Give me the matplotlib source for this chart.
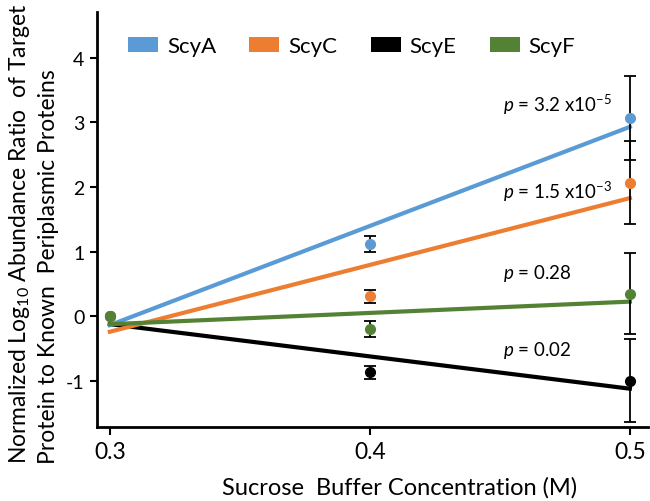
import numpy as np
import matplotlib
matplotlib.use("Agg")
import matplotlib.pyplot as plt
from matplotlib.patches import Patch

plt.rcParams['font.family'] = ['Lato', 'DejaVu Sans']
plt.rcParams['mathtext.fontset'] = 'custom'
plt.rcParams['mathtext.rm'] = 'Lato'
plt.rcParams['mathtext.it'] = 'Lato:italic'

# data
conc = [0.3, 0.4, 0.5]
proteins = ['ScyA', 'ScyC', 'ScyE', 'ScyF']
means = {
    'ScyA': [0.0, 1.12, 3.07],
    'ScyC': [0.0, 0.31, 2.07],
    'ScyE': [0.0, -0.87, -1.00],
    'ScyF': [0.0, -0.20, 0.35],
}
errors = {
    'ScyA': [0.0, 0.12, 0.65],
    'ScyC': [0.0, 0.10, 0.65],
    'ScyE': [0.0, 0.10, 0.64],
    'ScyF': [0.0, 0.12, 0.63],
}
pvals = {
    'ScyA': r'$p$ = 3.2 x10$^{-5}$',
    'ScyC': r'$p$ = 1.5 x10$^{-3}$',
    'ScyF': r'$p$ = 0.28',
    'ScyE': r'$p$ = 0.02',
}
pval_y = {'ScyA': 3.29, 'ScyC': 1.94, 'ScyF': 0.68, 'ScyE': -0.51}
colors = {'ScyA': '#5b9bd5', 'ScyC': '#ed7d31', 'ScyE': '#000000', 'ScyF': '#548235'}

fig = plt.figure(figsize=(6.5, 5.02), dpi=100)
ax = fig.add_axes([0.149, 0.147, 0.848, 0.827])

x = np.array(conc)
# draw order: E, A, C, F so green sits on top at 0.3
for name in ['ScyE', 'ScyA', 'ScyC', 'ScyF']:
    y = np.array(means[name])
    slope, icpt = np.polyfit(x, y, 1)
    ax.plot(x[[0, -1]], slope * x[[0, -1]] + icpt, color=colors[name], lw=3, zorder=2)

for name in ['ScyE', 'ScyA', 'ScyC', 'ScyF']:
    y = np.array(means[name])
    e = np.array(errors[name])
    ax.errorbar(x[1:], y[1:], yerr=e[1:], fmt='none', ecolor='black',
                elinewidth=1.3, capsize=4, capthick=1.3, zorder=3)
    ax.plot(x, y, 'o', color=colors[name], ms=7, zorder=4)

for name, txt in pvals.items():
    ax.text(0.4512, pval_y[name], txt, fontsize=13.5, ha='left', va='center')

ax.set_xlim(0.295, 0.507)
ax.set_ylim(-1.72, 4.71)
ax.set_xticks(conc)
ax.set_xticklabels(['0.3', '0.4', '0.5'], fontsize=16.5)
ax.set_yticks([-1, 0, 1, 2, 3, 4])
ax.set_yticklabels(['-1', '0', '1', '2', '3', '4'], fontsize=14)
ax.tick_params(axis='y', length=5, width=1.5, pad=4)
ax.tick_params(axis='x', length=6, width=1.5, pad=4)
for s in ['top', 'right']:
    ax.spines[s].set_visible(False)
for s in ['left', 'bottom']:
    ax.spines[s].set_linewidth(2)

handles = [Patch(facecolor=colors[n], edgecolor='none', label=n) for n in proteins]
fig.legend(handles=handles, loc='upper left', bbox_to_anchor=(128 / 650, 1 - 37 / 502),
           ncol=4, frameon=False, fontsize=16, handlelength=1.35, handleheight=0.65,
           handletextpad=0.4, columnspacing=1.5, borderpad=0, borderaxespad=0)

fig.text(400 / 650, 1 - 488 / 502, 'Sucrose  Buffer Concentration (M)', fontsize=17,
         ha='center', va='center')
fig.text(33 / 650, 1 - 234 / 502,
         'Normalized Log$_{10}$ Abundance Ratio  of Target\nProtein to Known  Periplasmic Proteins',
         fontsize=16.5, rotation=90, ha='center', va='center', multialignment='left',
         linespacing=1.4)

fig.savefig('out.png', dpi=100)
